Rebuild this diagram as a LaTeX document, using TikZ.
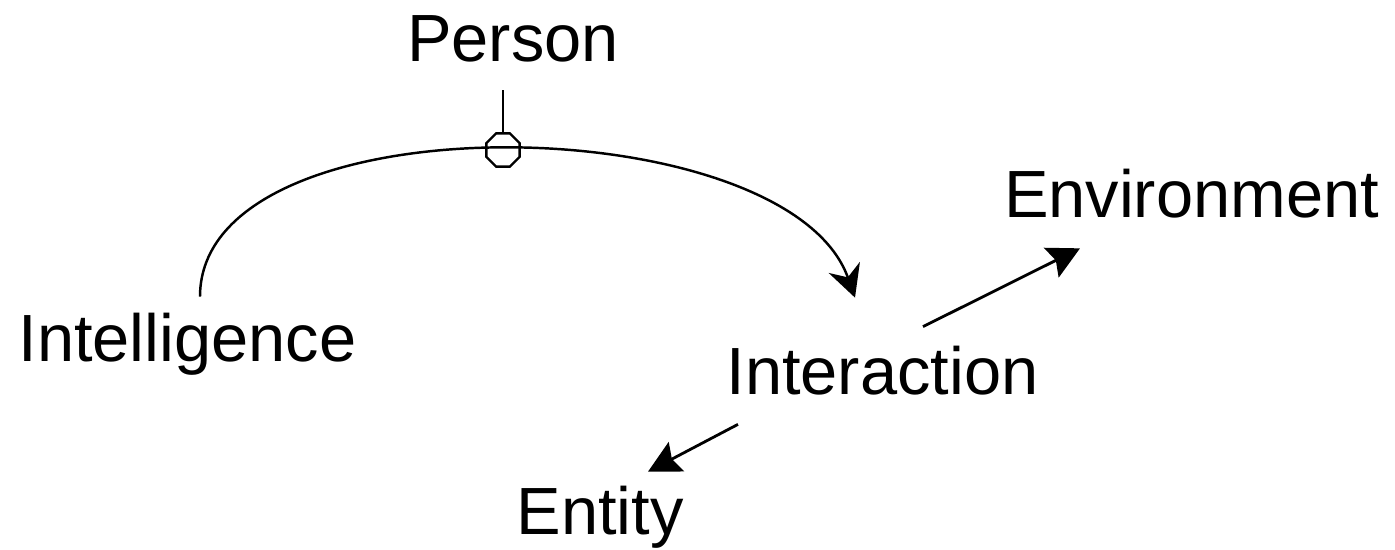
\documentclass[tikz,border=0pt]{standalone}
\usepackage{fontspec}
\setmainfont{Liberation Sans}
\usetikzlibrary{shapes.geometric,arrows.meta}

\begin{document}
\begin{tikzpicture}[
    term/.style={font=\fontsize{38}{41}\selectfont, inner sep=0.1cm, text height=0.95cm, text depth=0.28cm, anchor=base},
    junction/.style={regular polygon, regular polygon sides=8, draw, line width=1.3pt, inner sep=0pt, minimum size=0.72cm},
    arrow/.style={line width=1.6pt, -{Stealth[length=0.64cm, width=0.66cm, inset=0.1cm]}},
    bendarrow/.style={line width=1.4pt, -{Stealth[length=0.64cm, width=0.66cm, inset=0.21cm]}},
    line/.style={line width=1.4pt}
]
    \useasboundingbox (0,0) rectangle (27.9,11);

    % Terms
    \node[term] (person)   at (10.26, 9.76) {Person};
    \node[term] (intel)    at (3.75, 3.76)  {Intelligence};
    \node[term] (interact) at (17.65, 3.10) {Interaction};
    \node[term] (envir)    at (23.83, 6.64) {Environment};
    \node[term] (entity)   at (12.0, 0.3)   {Entity};

    % Junction sitting on the arc
    \node[junction] (knot) at (10.06, 8.0) {};

    % Person hangs from the junction
    \draw[line, shorten >=1.8mm] (knot.north) -- (knot.north |- person.south);

    % Arc from Intelligence over to Interaction
    \draw[bendarrow] ([xshift=2.5mm, yshift=2.5mm]intel.north)
        .. controls +(0,4.02) and +(-1.36,3.84) .. ([xshift=-5.5mm, yshift=8.9mm]interact.north);

    % Interaction fans out
    \draw[arrow] ([xshift=8.1mm, yshift=3.1mm]interact.north) -- ([xshift=-22.3mm, yshift=-2.2mm]envir.south);
    \draw[arrow] ([xshift=-28.9mm, yshift=-2mm]interact.south) -- ([xshift=9.6mm, yshift=2.1mm]entity.north);

\end{tikzpicture}
\end{document}
